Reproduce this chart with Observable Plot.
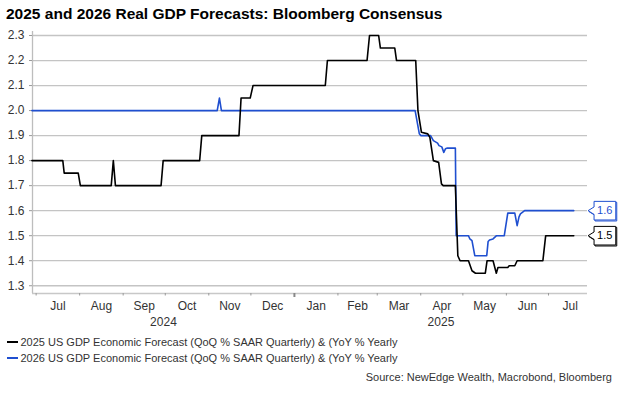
<!DOCTYPE html>
<html><head><meta charset="utf-8">
<script src="https://cdn.jsdelivr.net/npm/d3@7"></script>
<script src="https://cdn.jsdelivr.net/npm/@observablehq/plot@0.6"></script>
<style>
body{margin:0;background:#fff;font-family:"Liberation Sans",Arial,sans-serif;width:625px;height:393px;position:relative;overflow:hidden}
#title{position:absolute;left:6px;top:5px;font-weight:bold;font-size:15.5px;line-height:18px;color:#000;white-space:nowrap}
#chart{position:absolute;left:0;top:27px}
#legend{position:absolute;left:7px;top:334px;font-size:11px;color:#333}
.row{height:16px;line-height:16px;white-space:nowrap;display:flex;align-items:center}
.sw{display:inline-block;width:11px;height:2px;margin-right:2.5px}
#source{position:absolute;right:13px;top:370px;font-size:11px;color:#333;line-height:14px;white-space:nowrap}
</style></head><body>
<div id="title">2025 and 2026 Real GDP Forecasts: Bloomberg Consensus</div>
<div id="chart"></div>
<div id="legend"></div>
<div id="source">Source: NewEdge Wealth, Macrobond, Bloomberg</div>
<script>
// ---- data ----
const seriesNames = [
  "2025 US GDP Economic Forecast (QoQ % SAAR Quarterly) & (YoY % Yearly",
  "2026 US GDP Economic Forecast (QoQ % SAAR Quarterly) & (YoY % Yearly"
];
const seriesColors = ["#000000", "#1f4fd0"];

const dates2025 = [
  "2024-06-28","2024-07-20","2024-07-21","2024-07-31","2024-08-01T12:00","2024-08-23T12:00","2024-08-25","2024-08-26T12:00",
  "2024-09-28","2024-09-29T12:00","2024-10-25T12:00","2024-10-27","2024-11-22T12:00","2024-11-24","2024-11-30T12:00","2024-12-02T12:00",
  "2025-01-23","2025-01-24T12:00","2025-02-21T18:00","2025-02-23T12:00","2025-03-02","2025-03-03T06:00","2025-03-13T12:00","2025-03-14T18:00",
  "2025-03-28T10:00","2025-03-30","2025-04-01T12:00","2025-04-06","2025-04-07T12:00","2025-04-10","2025-04-13T18:00","2025-04-15T18:00",
  "2025-04-17","2025-04-25T16:00","2025-04-27T10:00","2025-04-29","2025-05-05","2025-05-07T12:00","2025-05-10","2025-05-17",
  "2025-05-18T06:00","2025-05-22T12:00","2025-05-24T20:00","2025-05-26","2025-06-02","2025-06-03","2025-06-07","2025-06-08T16:00",
  "2025-06-27","2025-06-29","2025-07-19"
];
const values2025 = [
  1.8,1.8,1.75,1.75,1.7,1.7,1.8,1.7,
  1.7,1.8,1.8,1.9,1.9,2.05,2.05,2.1,
  2.1,2.2,2.2,2.3,2.3,2.25,2.25,2.2,
  2.2,2.0,1.913,1.907,1.893,1.8,1.793,1.707,
  1.7,1.7,1.42,1.4,1.4,1.36,1.35,1.35,
  1.4,1.4,1.35,1.373,1.373,1.38,1.38,1.4,
  1.4,1.5,1.5
];

const dates2026 = [
  "2024-06-28","2024-11-07","2024-11-08T14:00","2024-11-10","2025-03-28","2025-03-31","2025-04-01","2025-04-08",
  "2025-04-10","2025-04-13","2025-04-14","2025-04-16","2025-04-17T10:00","2025-04-18T14:00","2025-04-20","2025-04-25T16:00",
  "2025-04-26T06:00","2025-05-05","2025-05-06","2025-05-07T12:00","2025-05-09T12:00","2025-05-18","2025-05-19","2025-05-20",
  "2025-05-22T12:00","2025-05-25","2025-05-30T12:00","2025-06-02","2025-06-07","2025-06-08T16:00","2025-06-10","2025-06-11",
  "2025-06-14","2025-07-19"
];
const values2026 = [
  2.0,2.0,2.05,2.0,2.0,1.907,1.9,1.9,
  1.88,1.87,1.86,1.855,1.833,1.847,1.85,1.85,
  1.5,1.5,1.487,1.48,1.42,1.42,1.477,1.483,
  1.487,1.5,1.5,1.59,1.59,1.54,1.575,1.587,
  1.6,1.6
];

const yTickValues = [1.3,1.4,1.5,1.6,1.7,1.8,1.9,2.0,2.1,2.2,2.3];
const monthLabels = ["Jul","Aug","Sep","Oct","Nov","Dec","Jan","Feb","Mar","Apr","May","Jun","Jul"];
const yearLabels = ["2024","2025"];

// ---- build ----
const parse = s => new Date(s.length > 10 ? s + "Z" : s + "T00:00Z");
const rows2025 = dates2025.map((d, i) => ({date: parse(d), value: values2025[i]}));
const rows2026 = dates2026.map((d, i) => ({date: parse(d), value: values2026[i]}));
const ends = [
  {...rows2026[rows2026.length - 1], color: seriesColors[1], weight: "normal"},
  {...rows2025[rows2025.length - 1], color: seriesColors[0], weight: "bold"}
];

const xDomain = [new Date("2024-06-28T10:00Z"), new Date("2025-07-28T19:00Z")];
const yDomain = [1.269, 2.316];

const monthStarts = d3.utcMonth.range(d3.utcMonth.ceil(xDomain[0]), xDomain[1]);
const monthMids = monthStarts.map(m => new Date((+m + +d3.utcMonth.offset(m, 1)) / 2));
const yearStart = new Date("2025-01-01T00:00Z");
const yearMids = [new Date((+xDomain[0] + +yearStart) / 2), new Date((+yearStart + +xDomain[1]) / 2)];

const callout = {
  draw(ctx) {
    ctx.moveTo(0, 0); ctx.lineTo(6, -3.7); ctx.lineTo(6, -9.3); ctx.lineTo(27.7, -9.3);
    ctx.lineTo(27.7, 9.3); ctx.lineTo(6, 9.3); ctx.lineTo(6, 3.7); ctx.closePath();
  }
};

const chart = Plot.plot({
  width: 625, height: 303,
  marginTop: 4, marginBottom: 37, marginLeft: 32, marginRight: 38,
  style: {fontFamily: "Liberation Sans, Arial, sans-serif", fontSize: "12px", color: "#333", background: "white", overflow: "visible"},
  x: {type: "utc", domain: xDomain},
  y: {domain: yDomain},
  marks: [
    Plot.gridY(yTickValues, {stroke: "#c4c4c4", strokeOpacity: 1, strokeWidth: 1.3}),
    Plot.ruleX([xDomain[0]], {stroke: "#bdbdbd", strokeWidth: 1.3}),
    Plot.ruleY([yDomain[0]], {stroke: "#c8c8c8", strokeWidth: 1.3}),
    Plot.axisY(yTickValues, {tickSize: 3, tickPadding: 5, stroke: "#999", fill: "#333", tickFormat: d => d.toFixed(1), label: null, fontSize: 12}),
    Plot.axisX(monthStarts.filter(d => +d !== +yearStart), {tickSize: 2.5, stroke: "#999", tickFormat: () => "", label: null}),
    Plot.axisX([yearStart], {tickSize: 4, stroke: "#888", strokeWidth: 2, tickFormat: () => "", label: null}),
    Plot.axisX(monthMids, {tickSize: 0, tickPadding: 8, tickFormat: (d, i) => monthLabels[i], fill: "#333", label: null, fontSize: 12}),
    Plot.axisX(yearMids, {tickSize: 0, tickPadding: 24, tickFormat: (d, i) => yearLabels[i], fill: "#333", label: null, fontSize: 12}),
    Plot.line(rows2026, {x: "date", y: "value", stroke: seriesColors[1], strokeWidth: 1.6}),
    Plot.line(rows2025, {x: "date", y: "value", stroke: seriesColors[0], strokeWidth: 1.6}),
    Plot.dot(ends, {x: "date", y: "value", symbol: callout, dx: 15.3, dy: 1, stroke: d => d.color, fill: "none", strokeWidth: 1}),
    Plot.dot(ends, {x: "date", y: "value", symbol: callout, dx: 14.3, stroke: d => d.color, fill: "white", strokeWidth: 1}),
    Plot.text(ends, {x: "date", y: "value", text: d => d.value.toFixed(1), dx: 31, fill: d => d.color, fontWeight: d => d.weight, fontSize: 11})
  ]
});
document.getElementById("chart").append(chart);

const legend = document.getElementById("legend");
seriesNames.forEach((name, i) => {
  const row = document.createElement("div");
  row.className = "row";
  const sw = document.createElement("span");
  sw.className = "sw";
  sw.style.background = seriesColors[i];
  const t = document.createElement("span");
  t.textContent = name;
  row.append(sw, t);
  legend.append(row);
});
</script>
</body></html>
